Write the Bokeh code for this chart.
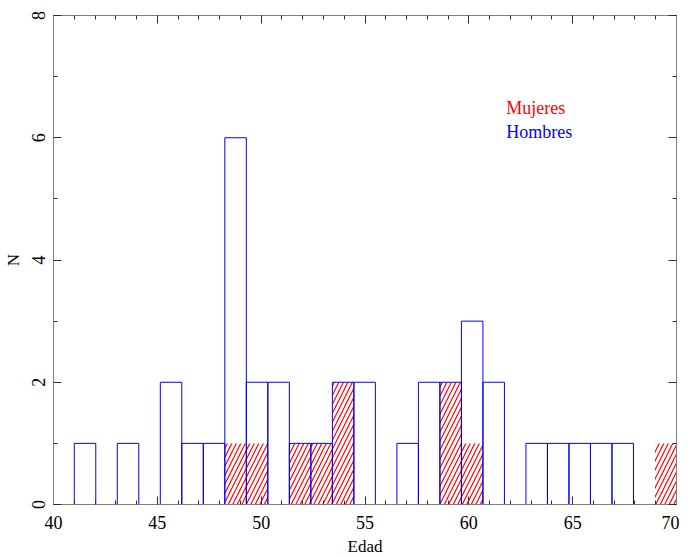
from bokeh.plotting import figure
from bokeh.models import Range1d, LinearAxis, SingleIntervalTicker, CustomJSTickFormatter
from bokeh.core.properties import value
from bokeh.embed import file_html
from bokeh.resources import INLINE
import numpy as np

# Histogram bins: ages 41..70 split into 28 bins
age_min = 41.0
age_max = 70.0
n_bins = 28
hombres = [1, 0, 1, 0, 2, 1, 1, 6, 2, 2, 1, 1, 2, 2, 0, 1, 2, 2, 3, 2, 0, 1, 1, 1, 1, 1, 0, 0]
mujeres = [0, 0, 0, 0, 0, 0, 0, 1, 1, 0, 1, 1, 2, 0, 0, 0, 0, 2, 1, 0, 0, 0, 0, 0, 0, 0, 0, 1]
legend_labels = ["Mujeres", "Hombres"]
legend_colors = ["red", "blue"]
legend_x = [61.8, 61.8]
legend_y = [6.48, 6.09]

edges = np.linspace(age_min, age_max, n_bins + 1)
left = edges[:-1]
right = edges[1:]

FONT = "Liberation Serif"

p = figure(frame_width=623, frame_height=489, output_backend="svg",
           toolbar_location=None, x_range=Range1d(40, 70), y_range=Range1d(0, 8),
           min_border_left=46, min_border_right=3, min_border_top=15, min_border_bottom=30,
           x_axis_label="Edad", y_axis_label="N")
p.background_fill_color = "white"
p.border_fill_color = "white"
p.xgrid.visible = False
p.ygrid.visible = False
p.outline_line_color = "#808080"

m_idx = [i for i, v in enumerate(mujeres) if v > 0]
p.quad(left=[left[i] for i in m_idx], right=[right[i] for i in m_idx], bottom=0,
       top=[mujeres[i] for i in m_idx], fill_alpha=0, line_alpha=0,
       hatch_pattern="/", hatch_color="red", hatch_scale=9, hatch_weight=1.2)

h_idx = [i for i, v in enumerate(hombres) if v > 0]
p.quad(left=[left[i] for i in h_idx], right=[right[i] for i in h_idx], bottom=0,
       top=[hombres[i] for i in h_idx], fill_alpha=0, line_color="blue", line_width=1)

p.text(x=legend_x, y=legend_y, text=legend_labels, text_color=legend_colors,
       text_font=value(FONT), text_font_size="18px", text_baseline="middle", text_align="left")

xt = SingleIntervalTicker(interval=5, num_minor_ticks=5)
yt = SingleIntervalTicker(interval=2, num_minor_ticks=2)

def style(ax, labels=True):
    ax.axis_line_color = "#808080"
    ax.major_tick_in = 8
    ax.major_tick_out = 0
    ax.minor_tick_in = 4
    ax.minor_tick_out = 0
    ax.major_tick_line_color = "#303030"
    ax.minor_tick_line_color = "#303030"
    ax.major_label_text_font = FONT
    ax.major_label_text_font_size = "18px"
    ax.major_label_text_color = "black"
    ax.axis_label_text_font = FONT
    ax.axis_label_text_font_size = "17px"
    ax.axis_label_text_font_style = "normal"
    ax.axis_label_text_color = "black"
    if not labels:
        ax.formatter = CustomJSTickFormatter(code="return '';")
        ax.major_label_standoff = 0

p.xaxis[0].ticker = xt
p.yaxis[0].ticker = yt
style(p.xaxis[0])
style(p.yaxis[0])
p.xaxis[0].major_label_standoff = 11
p.xaxis[0].axis_label_standoff = 5
p.yaxis[0].major_label_orientation = "vertical"
p.yaxis[0].major_label_standoff = 9
p.yaxis[0].axis_label_standoff = 6

top_ax = LinearAxis(ticker=SingleIntervalTicker(interval=5, num_minor_ticks=5))
style(top_ax, labels=False)
p.add_layout(top_ax, "above")
right_ax = LinearAxis(ticker=SingleIntervalTicker(interval=2, num_minor_ticks=2))
style(right_ax, labels=False)
p.add_layout(right_ax, "right")

open("out.html", "w").write(file_html(p, INLINE))
